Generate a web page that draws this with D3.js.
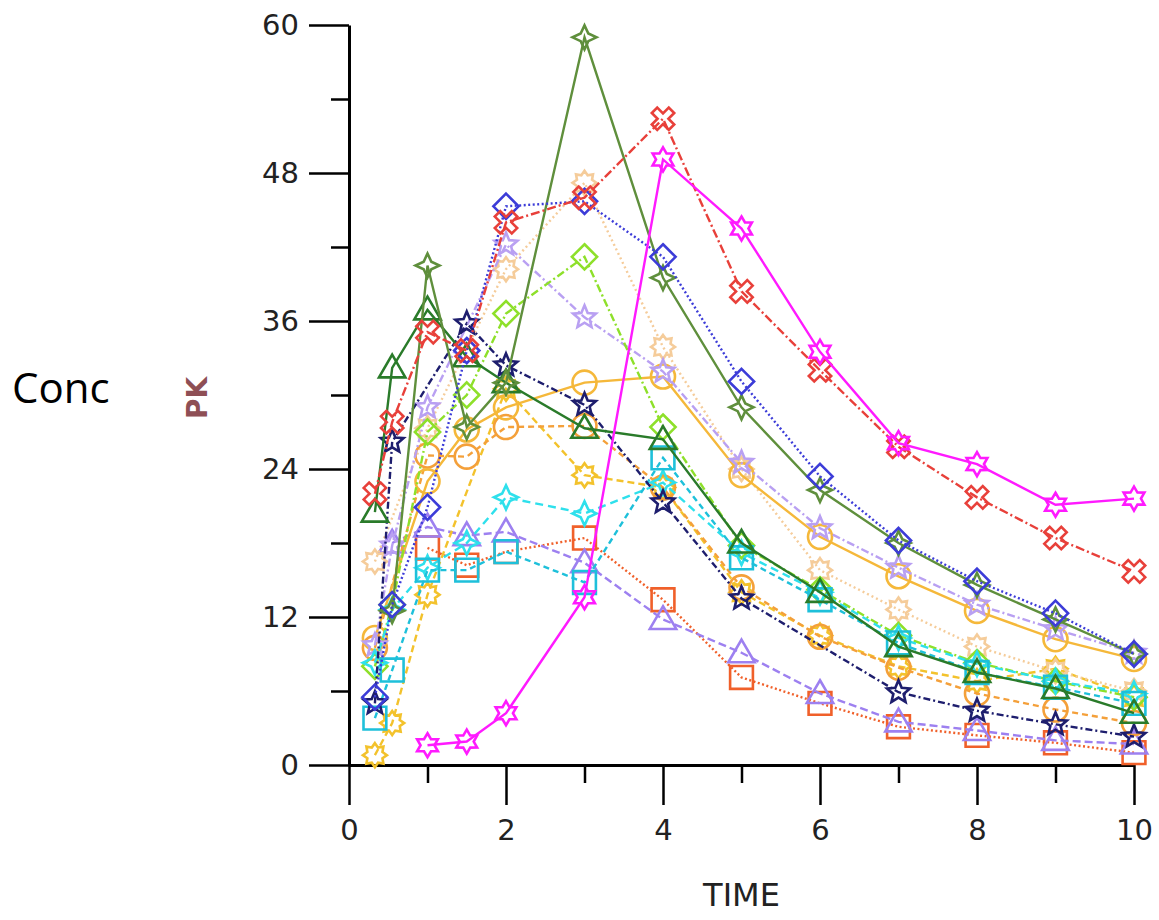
<!DOCTYPE html>
<html>
<head>
<meta charset="utf-8">
<script src="https://cdn.jsdelivr.net/npm/d3@7"></script>
<style>
  body { margin: 0; background: #fff; }
  .tick text { font-family: "DejaVu Sans", sans-serif; font-size: 29px; fill: #222; }
</style>
</head>
<body>
<div id="chart"></div>
<script>
// sampling times (hours); null = no sample at that time
const TIMES = [0.33, 0.55, 1, 1.5, 2, 3, 4, 5, 6, 7, 8, 9, 10];

const magentaVals   = [null, null, 1.6, 1.9, 4.2, 13.6, 49.1, 43.5, 33.5, 26.1, 24.4, 21.1, 21.6];
const redVals       = [22, 27.8, 35.1, 33.6, 44, 46, 52.4, 38.4, 32, 25.8, 21.7, 18.4, 15.7];
const blueVals      = [5.5, 13, 20.9, 33.6, 45.3, 45.7, 41.2, 31.1, 23.4, 18.2, 14.9, 12.3, 9];
const oliveVals     = [null, 12.5, 40.5, 27.4, 31, 59, 39.5, 29, 22.3, 18, 14.6, 11.8, 9];
const greenVals     = [20.5, 32.2, 36.9, 33.1, 31, 27.3, 26.4, 18, 14, 9.6, 7.5, 6.2, 4.2];
const navyVals      = [5, 26.2, null, 35.8, 32.4, 29.2, 21.3, 13.5, null, 5.9, 4.4, 3.3, 2.3];
const goldCircVals  = [10.3, null, 23, 27.2, 29, 31, 31.5, 23.5, 18.5, 15.3, 12.5, 10.2, 8.6];
const orangeCircVals= [9.5, null, 25.1, 25, 27.4, 27.5, 22.5, 14.4, 10.4, 7.9, 5.8, 4.5, 3.4];
const paleSunVals   = [16.5, null, 27.3, null, 40.2, 47.2, 33.9, 24, 15.8, 12.6, 9.6, 7.6, 6];
const lavStarVals   = [9.7, 17.8, 29, null, 42.2, 36.3, 31.9, 24.5, 19.2, 16, 13, 11, 9.1];
const limeVals      = [8, 13, 27, 30, 36.6, 41.2, 27.4, 17.8, 14.2, 10.5, 8.3, 6.8, 5.5];
const cyanDiaVals   = [8.3, 12.6, 16, 18, 21.7, 20.4, 22.9, 17.2, 14, 10.3, 8.2, 6.8, 5.8];
const cyanSqVals    = [3.8, 7.7, 15.8, 15.8, 17.3, 14.8, 24.9, 16.8, 13.4, 9.9, 7.5, 6.3, 5];
const orangeSqVals  = [null, null, 17.6, 16.2, 17.3, 18.4, 13.4, 7.1, 5, 3.1, 2.4, 1.8, 1];
const purpleTriVals = [null, 18, 19.3, 18.6, 18.9, 16.4, 11.8, 9.1, 5.8, 3.5, 2.8, 2, 1.7];
const goldSunVals   = [0.8, 3.4, 13.8, null, 30.5, 23.5, 22.5, 14, 10.5, 8, 6.8, 7.8, 5.5];

const X_MAJOR = [0, 2, 4, 6, 8, 10];
const X_MINOR = [1, 3, 5, 7, 9];
const Y_MAJOR = [0, 12, 24, 36, 48, 60];
const Y_MINOR = [6, 18, 30, 42, 54];

// marker shapes, size = (bounding box width)^2
const radius = size => Math.sqrt(size) / 2;
const starType = (n, inner) => ({
	draw(ctx, size) {
		const r = radius(size);
		for (let i = 0; i < 2 * n; i++) {
			const a = -Math.PI / 2 + i * Math.PI / n;
			const rr = i % 2 ? r * inner : r;
			if (i) ctx.lineTo(rr * Math.cos(a), rr * Math.sin(a));
			else ctx.moveTo(rr * Math.cos(a), rr * Math.sin(a));
		}
		ctx.closePath();
	}
});
const shapes = {
	circle: { draw(ctx, size) { const r = radius(size); ctx.moveTo(r, 0); ctx.arc(0, 0, r, 0, 2 * Math.PI); } },
	square: { draw(ctx, size) { const r = radius(size) * 0.95; ctx.rect(-r, -r, 2 * r, 2 * r); } },
	diamond: { draw(ctx, size) { const r = radius(size) * 1.05; ctx.moveTo(0, -r); ctx.lineTo(r, 0); ctx.lineTo(0, r); ctx.lineTo(-r, 0); ctx.closePath(); } },
	triangle: { draw(ctx, size) { const r = radius(size) * 1.1; ctx.moveTo(0, -r); ctx.lineTo(r, r * 0.72); ctx.lineTo(-r, r * 0.72); ctx.closePath(); } },
	cross: { draw(ctx, size) {
		const r = radius(size), w = r * 0.32, c = Math.SQRT1_2;
		const pts = [[w, -r], [w, -w], [r, -w], [r, w], [w, w], [w, r], [-w, r], [-w, w], [-r, w], [-r, -w], [-w, -w], [-w, -r]];
		pts.forEach(([px, py], i) => {
			const rx = (px - py) * c, ry = (px + py) * c;
			if (i) ctx.lineTo(rx, ry); else ctx.moveTo(rx, ry);
		});
		ctx.closePath();
	} },
	star5: starType(5, 0.45),
	star6: starType(6, 0.58),
	star4: starType(4, 0.45),
	sun: starType(8, 0.68)
};

const series = [
	{ values: orangeSqVals,   color: '#f0602a', dash: '2,2.5',     shape: 'square' },
	{ values: purpleTriVals,  color: '#9d80f0', dash: '8,4',       shape: 'triangle' },
	{ values: goldSunVals,    color: '#f3c22c', dash: '7,4',       shape: 'sun' },
	{ values: paleSunVals,    color: '#f5cc9a', dash: '2,3',       shape: 'sun' },
	{ values: orangeCircVals, color: '#f4a03a', dash: '6,4',       shape: 'circle' },
	{ values: goldCircVals,   color: '#f5b83a', dash: null,        shape: 'circle' },
	{ values: lavStarVals,    color: '#b9a0f2', dash: '8,3,2,3',   shape: 'star5' },
	{ values: limeVals,       color: '#8ee02a', dash: '8,3,2,3',   shape: 'diamond' },
	{ values: cyanDiaVals,    color: '#2ee0ec', dash: '8,5',       shape: 'star4' },
	{ values: cyanSqVals,     color: '#1ec0da', dash: '6,4',       shape: 'square' },
	{ values: navyVals,       color: '#1e1e6e', dash: '7,3,2,3',   shape: 'star5' },
	{ values: greenVals,      color: '#2a7b2a', dash: null,        shape: 'triangle' },
	{ values: oliveVals,      color: '#5f8f3c', dash: null,        shape: 'star4' },
	{ values: blueVals,       color: '#3c3cd8', dash: '2,2.5',     shape: 'diamond' },
	{ values: redVals,        color: '#e8403a', dash: '9,3,2,3',   shape: 'cross' },
	{ values: magentaVals,    color: '#ff1aff', dash: null,        shape: 'star6' }
];

const width = 1159, height = 920;
const margin = { top: 25, right: 25, bottom: 155, left: 349 };

const svg = d3.select('#chart').append('svg')
	.attr('width', width)
	.attr('height', height);

const x = d3.scaleLinear().domain([0, 10]).range([margin.left, width - margin.right]);
const y = d3.scaleLinear().domain([0, 60]).range([height - margin.bottom, margin.top]);

// axes
const styleAxis = g => {
	g.select('.domain').attr('stroke', '#000').attr('stroke-width', 3);
	g.selectAll('.tick line').attr('stroke', '#000').attr('stroke-width', 2.5);
};

svg.append('g')
	.attr('transform', `translate(${ margin.left },0)`)
	.call(d3.axisLeft(y).tickValues(Y_MINOR).tickSize(18).tickFormat(''))
	.call(g => g.select('.domain').remove())
	.call(styleAxis);
svg.append('g')
	.attr('transform', `translate(0,${ y(0) })`)
	.call(d3.axisBottom(x).tickValues(X_MINOR).tickSize(18).tickFormat(''))
	.call(g => g.select('.domain').remove())
	.call(styleAxis);

svg.append('g')
	.attr('transform', `translate(${ margin.left },0)`)
	.call(d3.axisLeft(y).tickValues(Y_MAJOR).tickSize(40).tickSizeOuter(0).tickPadding(10))
	.call(styleAxis);
svg.append('g')
	.attr('transform', `translate(0,${ y(0) })`)
	.call(d3.axisBottom(x).tickValues(X_MAJOR).tickSize(40).tickSizeOuter(0).tickPadding(14))
	.call(styleAxis);

// series
const line = d3.line().x(d => x(d.t)).y(d => y(d.v));
const symbol = d3.symbol().size(24 * 24);

series.forEach(s => {
	const pts = TIMES.map((t, i) => ({ t, v: s.values[ i ] })).filter(d => d.v !== null);
	const g = svg.append('g');
	g.append('path')
		.datum(pts)
		.attr('d', line)
		.attr('fill', 'none')
		.attr('stroke', s.color)
		.attr('stroke-width', 2.4)
		.attr('stroke-dasharray', s.dash);
	g.selectAll('path.mk')
		.data(pts)
		.enter().append('path')
		.attr('class', 'mk')
		.attr('transform', d => `translate(${ x(d.t) },${ y(d.v) })`)
		.attr('d', symbol.type(shapes[ s.shape ]))
		.attr('fill', 'none')
		.attr('stroke', s.color)
		.attr('stroke-width', 2.6);
});

// titles
svg.append('text')
	.attr('x', (x(0) + x(10)) / 2)
	.attr('y', 906)
	.attr('text-anchor', 'middle')
	.style('font-family', '"DejaVu Sans", sans-serif')
	.style('font-size', '32px')
	.style('fill', '#222')
	.text('TIME');

svg.append('text')
	.attr('transform', 'translate(207,398) rotate(-90)')
	.attr('text-anchor', 'middle')
	.style('font-family', '"DejaVu Sans", sans-serif')
	.style('font-size', '28px')
	.style('font-weight', 'bold')
	.style('fill', '#8e4f55')
	.text('PK');

svg.append('text')
	.attr('x', 12)
	.attr('y', 403)
	.style('font-family', '"Open Sans", sans-serif')
	.style('font-size', '42px')
	.style('fill', '#000')
	.text('Conc');
</script>
</body>
</html>
